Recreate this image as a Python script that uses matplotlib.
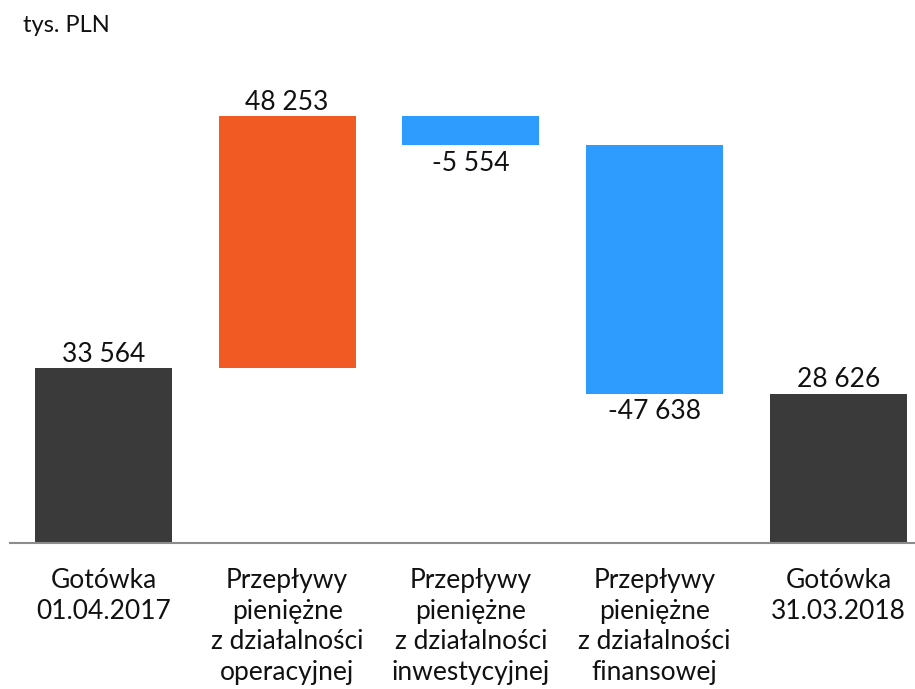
import numpy as np
import matplotlib.pyplot as plt

plt.rcParams['font.family'] = ['Lato', 'DejaVu Sans']

# data (tys. PLN)
categories = ['Gotówka\n01.04.2017',
              'Przepływy\npieniężne\nz działalności\noperacyjnej',
              'Przepływy\npieniężne\nz działalności\ninwestycyjnej',
              'Przepływy\npieniężne\nz działalności\nfinansowej',
              'Gotówka\n31.03.2018']
values = [33564, 48253, -5554, -47638, 28626]
labels = ['33 564', '48 253', '-5 554', '-47 638', '28 626']
is_total = [True, False, False, False, True]

dark = '#3a3a3a'
orange = '#f15a22'
blue = '#2e9bff'

# waterfall bottoms
bottoms = []
heights = []
running = 0
for v, tot in zip(values, is_total):
    if tot:
        bottoms.append(0)
        heights.append(v)
        running = v
    else:
        if v >= 0:
            bottoms.append(running)
        else:
            bottoms.append(running + v)
        heights.append(abs(v))
        running += v

colors = []
for v, tot in zip(values, is_total):
    if tot:
        colors.append(dark)
    elif v >= 0:
        colors.append(orange)
    else:
        colors.append(blue)

fig = plt.figure(figsize=(9.15, 6.89), dpi=100)
ax = fig.add_axes([0, 1 - 543 / 689, 1, 543 / 689])

x = np.arange(len(values))
ax.bar(x, heights, bottom=bottoms, width=0.746, color=colors)

for i in range(len(values)):
    top = bottoms[i] + heights[i]
    if values[i] < 0:
        ax.annotate(labels[i], (x[i], bottoms[i]), xytext=(0, -4), textcoords='offset points',
                    ha='center', va='top', fontsize=19, color='#111111')
    else:
        ax.annotate(labels[i], (x[i], top), xytext=(0, 1), textcoords='offset points',
                    ha='center', va='bottom', fontsize=19, color='#111111')

ax.set_xlim(-0.563, 4.417)
ax.set_ylim(0, 104143)

for s in ['top', 'right', 'left']:
    ax.spines[s].set_visible(False)
ax.spines['bottom'].set_color('#8c8c8c')
ax.spines['bottom'].set_linewidth(1.5)
ax.spines['bottom'].set_bounds(-0.51, 4.417)
ax.set_yticks([])
ax.set_xticks(x)
ax.set_xticklabels(categories, fontsize=19, color='#111111', linespacing=1.28)
ax.tick_params(axis='x', length=0, pad=18)

fig.text(23 / 915, 1 - 25 / 689, 'tys. PLN', fontsize=17, color='#111111', va='center', ha='left')

fig.savefig('out.png', dpi=100)
